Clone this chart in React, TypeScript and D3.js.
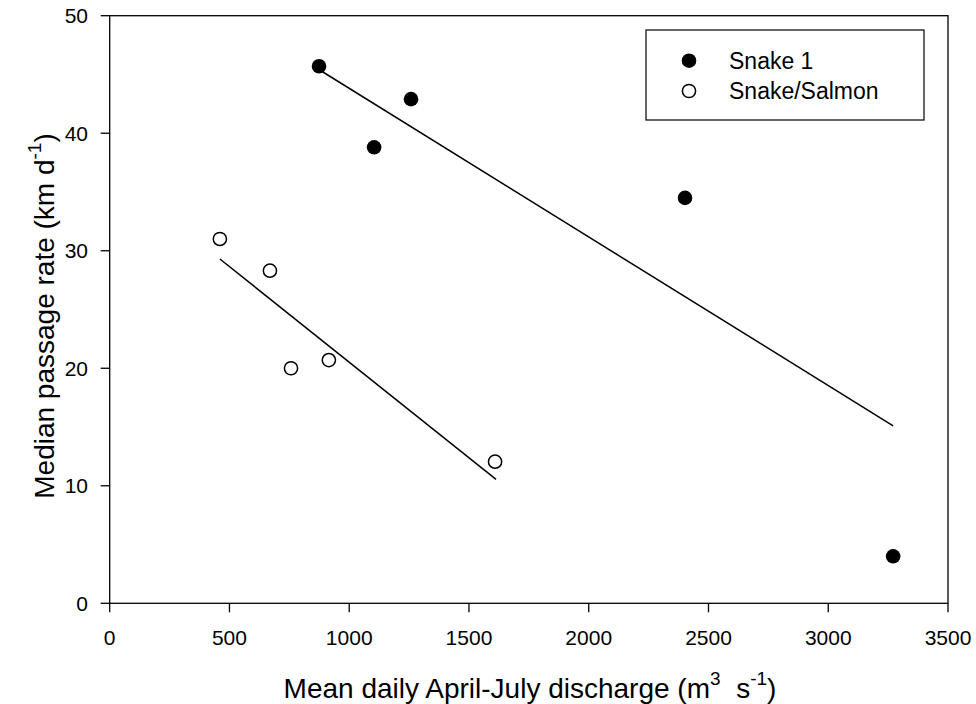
import React from "react";
import * as d3 from "d3";

const xTicks = [0, 500, 1000, 1500, 2000, 2500, 3000, 3500];
const yTicks = [0, 10, 20, 30, 40, 50];

const snake1X = [874, 1258, 1104, 2402, 3271];
const snake1Y = [45.7, 42.9, 38.8, 34.5, 4.0];
const salmonX = [460, 669, 757, 915, 1609];
const salmonY = [31.0, 28.3, 20.0, 20.7, 12.05];

const snake1FitX = [875, 3271];
const snake1FitY = [45.4, 15.1];
const salmonFitX = [460, 1613];
const salmonFitY = [29.3, 10.55];

const seriesNames = ["Snake 1", "Snake/Salmon"];

const W = 976;
const H = 704;
const left = 109.7;
const right = 948;
const top = 15.7;
const bottom = 603.3;
const font = "'Liberation Sans', Arial, sans-serif";

export default function App() {
  const x = d3.scaleLinear().domain([0, 3500]).range([left, right]);
  const y = d3.scaleLinear().domain([0, 50]).range([bottom, top]);
  const line = d3
    .line<[number, number]>()
    .x((d) => x(d[0]))
    .y((d) => y(d[1]));
  const fit1 = line(snake1FitX.map((v, i) => [v, snake1FitY[i]]) as [number, number][]);
  const fit2 = line(salmonFitX.map((v, i) => [v, salmonFitY[i]]) as [number, number][]);

  return (
    <svg
      width={W}
      height={H}
      style={{ position: "absolute", left: 0, top: 0, background: "#fff" }}
      fontFamily={font}
    >
      <rect x={0} y={0} width={W} height={H} fill="#fff" />
      {/* frame */}
      <rect
        x={left}
        y={top}
        width={right - left}
        height={bottom - top}
        fill="none"
        stroke="#000"
        strokeWidth={1.3}
      />
      {/* x ticks */}
      {xTicks.map((t) => (
        <g key={"xt" + t}>
          <line x1={x(t)} x2={x(t)} y1={bottom} y2={bottom + 9} stroke="#000" strokeWidth={1.3} />
          <text x={x(t)} y={645} textAnchor="middle" fontSize={21} fill="#000">
            {t}
          </text>
        </g>
      ))}
      {/* y ticks */}
      {yTicks.map((t) => (
        <g key={"yt" + t}>
          <line x1={left - 9} x2={left} y1={y(t)} y2={y(t)} stroke="#000" strokeWidth={1.3} />
          <text x={88} y={y(t) + 7.5} textAnchor="end" fontSize={21} fill="#000">
            {t}
          </text>
        </g>
      ))}
      {/* fits */}
      <path d={fit1 || ""} fill="none" stroke="#000" strokeWidth={1.5} />
      <path d={fit2 || ""} fill="none" stroke="#000" strokeWidth={1.5} />
      {/* points */}
      {snake1X.map((v, i) => (
        <circle key={"s1" + i} cx={x(v)} cy={y(snake1Y[i])} r={7.3} fill="#000" />
      ))}
      {salmonX.map((v, i) => (
        <circle
          key={"s2" + i}
          cx={x(v)}
          cy={y(salmonY[i])}
          r={6.6}
          fill="#fff"
          stroke="#000"
          strokeWidth={1.5}
        />
      ))}
      {/* legend */}
      <rect x={646} y={30} width={278} height={90} fill="#fff" stroke="#000" strokeWidth={1.2} />
      <circle cx={689} cy={60.7} r={7.3} fill="#000" />
      <text x={729} y={68.5} fontSize={23} fill="#000">
        {seriesNames[0]}
      </text>
      <circle cx={689} cy={91} r={6.6} fill="#fff" stroke="#000" strokeWidth={1.5} />
      <text x={729} y={99} fontSize={23} fill="#000">
        {seriesNames[1]}
      </text>
      {/* x title */}
      <text x={530} y={698} textAnchor="middle" fontSize={28} fill="#000">
        <tspan>Mean daily April-July discharge (m</tspan>
        <tspan fontSize={19} dy={-13}>3</tspan>
        <tspan dy={13}>{"\u00a0\u00a0s"}</tspan>
        <tspan fontSize={19} dy={-13}>-1</tspan>
        <tspan dy={13}>)</tspan>
      </text>
      {/* y title */}
      <text
        transform={`translate(54, 316) rotate(-90)`}
        textAnchor="middle"
        fontSize={28}
        fill="#000"
      >
        <tspan>Median passage rate (km d</tspan>
        <tspan fontSize={19} dy={-13}>-1</tspan>
        <tspan dy={13}>)</tspan>
      </text>
    </svg>
  );
}
